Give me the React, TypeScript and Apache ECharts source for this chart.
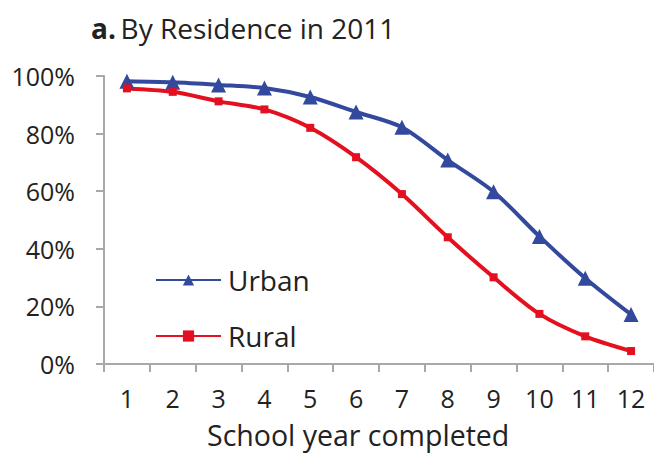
import React, { useEffect, useRef } from "react";
import * as echarts from "echarts";

const categories = ["1", "2", "3", "4", "5", "6", "7", "8", "9", "10", "11", "12"];
const urban = [98.2, 97.8, 96.9, 95.8, 92.7, 87.5, 82.2, 70.8, 59.8, 44.3, 29.8, 17.2];
const rural = [95.7, 94.5, 91.2, 88.4, 82.0, 71.8, 59.0, 44.0, 30.1, 17.4, 9.6, 4.5];
const yTicks = { min: 0, max: 100, interval: 20 };
const titleBold = "a.";
const titleText = "By Residence in 2011";
const xAxisTitle = "School year completed";

const FONT = "'Open Sans', 'Noto Sans', sans-serif";
const BLUE = "#32499d";
const RED = "#e4101f";
const AXIS = "#a8a8a8";
const TEXT = "#222222";

export default function App() {
  const ref = useRef<HTMLDivElement>(null);
  useEffect(() => {
    if (!ref.current) return;
    const chart = echarts.init(ref.current, null, { renderer: "svg" });
    chart.setOption({
      animation: false,
      backgroundColor: "#ffffff",
      textStyle: { fontFamily: FONT },
      title: {
        left: 91,
        top: 14,
        padding: 0,
        text: `{b|${titleBold}} {n|${titleText}}`,
        textStyle: {
          rich: {
            b: { fontFamily: FONT, fontWeight: "bold", fontSize: 28, color: TEXT },
            n: { fontFamily: FONT, fontWeight: "normal", fontSize: 28, color: TEXT },
          },
        },
      },
      legend: {
        orient: "vertical",
        left: 155,
        top: 266,
        itemWidth: 65,
        itemHeight: 14,
        itemGap: 28,
        padding: 0,
        textStyle: { fontFamily: FONT, fontSize: 28, color: TEXT, padding: [0, 0, 0, 2] },
        data: ["Urban", "Rural"],
      },
      grid: { left: 104, top: 76, width: 554, height: 288, containLabel: false },
      xAxis: {
        type: "category",
        data: categories,
        boundaryGap: true,
        axisLine: { lineStyle: { color: AXIS, width: 2 } },
        axisTick: { show: true, length: 8, lineStyle: { color: AXIS, width: 2 } },
        axisLabel: { fontFamily: FONT, fontSize: 25, color: TEXT, margin: 21, interval: 0 },
        splitLine: { show: false },
      },
      yAxis: {
        type: "value",
        min: yTicks.min,
        max: yTicks.max,
        interval: yTicks.interval,
        axisLine: { show: true, lineStyle: { color: AXIS, width: 2 } },
        axisTick: { show: true, length: 8, lineStyle: { color: AXIS, width: 2 } },
        axisLabel: { fontFamily: FONT, fontSize: 25, color: TEXT, margin: 29, formatter: "{value}%" },
        splitLine: { show: false },
      },
      graphic: [
        {
          type: "text",
          left: 207,
          top: 420,
          style: { text: xAxisTitle, fontFamily: FONT, fontSize: 28.5, fill: TEXT },
        },
      ],
      series: [
        {
          name: "Urban",
          type: "line",
          data: urban,
          smooth: 0.3,
          symbol: "triangle",
          symbolSize: 15,
          itemStyle: { color: BLUE },
          lineStyle: { color: BLUE, width: 4 },
        },
        {
          name: "Rural",
          type: "line",
          data: rural,
          smooth: 0.3,
          symbol: "rect",
          symbolSize: 8,
          itemStyle: { color: RED },
          lineStyle: { color: RED, width: 4 },
        },
      ],
    });
    return () => chart.dispose();
  }, []);
  return (
    <div
      ref={ref}
      style={{ position: "fixed", left: 0, top: 0, width: 654, height: 454 }}
    />
  );
}
